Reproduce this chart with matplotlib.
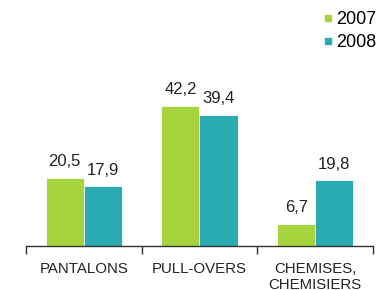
import numpy as np
import matplotlib.pyplot as plt
from matplotlib.lines import Line2D

# === DATA ===
categories = ['PANTALONS', 'PULL-OVERS', 'CHEMISES,\nCHEMISIERS']
series_names = ['2007', '2008']
values_2007 = [20.5, 42.2, 6.7]
values_2008 = [17.9, 39.4, 19.8]

green = '#a5d43c'
teal = '#2aabb1'

plt.rcParams['font.family'] = ['Liberation Sans', 'DejaVu Sans']

fig = plt.figure(figsize=(3.8, 2.9), dpi=100)
ax = fig.add_axes([0.068, 0.152, 0.914, 0.779])

x = np.arange(len(categories)) + 0.5
w = 0.33
b1 = ax.bar(x - w / 2, values_2007, w, color=green, edgecolor='white', linewidth=0.6)
b2 = ax.bar(x + w / 2, values_2008, w, color=teal, edgecolor='white', linewidth=0.6)

def fmt(v):
    return f'{v:.1f}'.replace('.', ',')

for bars, vals in [(b1, values_2007), (b2, values_2008)]:
    for rect, v in zip(bars, vals):
        ax.annotate(fmt(v), (rect.get_x() + rect.get_width() / 2, v),
                    xytext=(0, 6), textcoords='offset points',
                    ha='center', va='bottom', fontsize=12, color='#222222')

ax.set_xlim(0, 3)
ax.set_ylim(0, 67.9)
ax.set_xticks(x)
ax.set_xticklabels(categories, fontsize=10.8, color='#222222', linespacing=1.2)
ax.tick_params(axis='x', which='major', length=0, pad=11.5)
ax.set_xticks([0, 1, 2, 3], minor=True)
ax.tick_params(axis='x', which='minor', length=6, width=1, color='#333333', direction='out')
ax.set_yticks([])
for s in ['top', 'right', 'left']:
    ax.spines[s].set_visible(False)
ax.spines['bottom'].set_color('#333333')
ax.spines['bottom'].set_linewidth(1)

handles = [Line2D([], [], marker='s', linestyle='none', markersize=6,
                  markerfacecolor=c, markeredgecolor='white', markeredgewidth=0.5)
           for c in [green, teal]]
fig.legend(handles, series_names, loc='upper right', bbox_to_anchor=(1.02, 1.0),
           frameon=False, fontsize=13, handlelength=0.6, handletextpad=0.15,
           labelspacing=0.35, borderaxespad=0.2)

fig.savefig('out.png', dpi=100)
